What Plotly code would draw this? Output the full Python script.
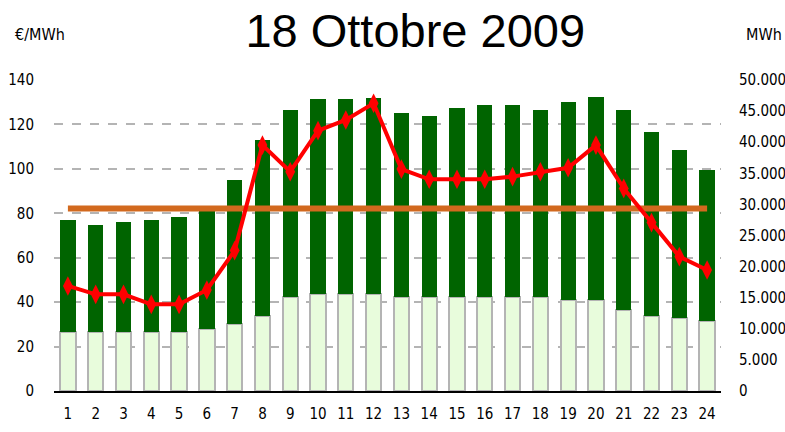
import plotly.graph_objects as go

hours = list(range(1, 25))
hour_labels = [str(h) for h in hours]

# MWh, lower (light) and upper (dark) stacked parts
volume_low = [9440, 9440, 9440, 9440, 9440, 9920, 10770, 12010, 15110, 15550, 15550, 15550,
              15110, 15110, 15110, 15110, 15110, 15110, 14630, 14630, 13020, 12060, 11690, 11210]
volume_high = [18050, 17250, 17730, 18050, 18530, 19020, 23150, 28340, 30070, 31400, 31400, 31560,
               29590, 29100, 30390, 30870, 30870, 30070, 31830, 32640, 32160, 29580, 27060, 24320]

# €/MWh
price = [47.3, 43.5, 43.5, 39.0, 39.0, 45.5, 63.2, 110.7, 98.7, 117.2, 122.0, 129.5,
         99.9, 95.3, 95.3, 95.3, 96.5, 98.7, 100.5, 110.7, 91.2, 75.8, 60.5, 54.5]
avg_price = [82.1] * 24

left_ticks = [0, 20, 40, 60, 80, 100, 120, 140]
right_ticks = [0, 5000, 10000, 15000, 20000, 25000, 30000, 35000, 40000, 45000, 50000]
right_labels = ["0", "5.000", "10.000", "15.000", "20.000", "25.000", "30.000",
                "35.000", "40.000", "45.000", "50.000"]

FONT = "DejaVu Sans Condensed, Liberation Sans Narrow, Arial Narrow, sans-serif"

fig = go.Figure()
fig.add_trace(go.Bar(x=hours, y=volume_low, yaxis="y", width=0.55,
                     marker=dict(color="#E8FCDC", line=dict(color="#B4B4B4", width=2))))
fig.add_trace(go.Bar(x=hours, y=volume_high, yaxis="y", width=0.55,
                     marker=dict(color="#006400", line=dict(width=0))))
fig.add_trace(go.Scatter(x=hours, y=avg_price, yaxis="y2", mode="lines",
                         line=dict(color="#D2691E", width=6)))
fig.add_trace(go.Scatter(x=hours, y=price, yaxis="y2", mode="lines+markers",
                         line=dict(color="#FF0000", width=4),
                         marker=dict(symbol="diamond-tall", size=14, color="#FF0000")))

fig.update_layout(
    width=785, height=432,
    margin=dict(l=54, r=64, t=80, b=41, autoexpand=False),
    paper_bgcolor="white", plot_bgcolor="white",
    barmode="stack",
    showlegend=False,
    title=dict(text="18 Ottobre 2009", x=0.529, xanchor="center", y=0.93, yanchor="middle",
               font=dict(family="Liberation Sans, Arial, sans-serif", size=47, color="black")),
    xaxis=dict(range=[0.5, 24.5], tickvals=hours, ticktext=hour_labels, automargin=False,
               showline=True, linecolor="black", linewidth=2, showgrid=False, zeroline=False,
               ticks="outside", ticklen=8, tickcolor="rgba(0,0,0,0)",
               tickfont=dict(family=FONT, size=15, color="black")),
    yaxis=dict(side="right", range=[0, 50000], tickvals=right_ticks, ticktext=right_labels,
               automargin=False, showgrid=False, zeroline=False, showline=False,
               ticks="outside", ticklen=14, tickcolor="rgba(0,0,0,0)",
               tickfont=dict(family=FONT, size=15, color="black")),
    yaxis2=dict(side="left", overlaying="y", range=[0, 140], tickvals=left_ticks,
                automargin=False,
                showgrid=True, gridcolor="#B4B4B4", gridwidth=2, griddash="dash",
                zeroline=False, showline=False,
                ticks="outside", ticklen=16, tickcolor="rgba(0,0,0,0)",
                tickfont=dict(family=FONT, size=15, color="black")),
)
fig.add_annotation(text="€/MWh", xref="paper", yref="paper", x=-0.021, y=1.145,
                   xanchor="center", yanchor="middle", showarrow=False,
                   font=dict(family=FONT, size=16, color="black"))
fig.add_annotation(text="MWh", xref="paper", yref="paper", x=1.064, y=1.145,
                   xanchor="center", yanchor="middle", showarrow=False,
                   font=dict(family=FONT, size=16, color="black"))

fig.write_html("out.html", config={"displayModeBar": False},
               post_script="document.body.style.margin='0';document.body.style.overflow='hidden';")
